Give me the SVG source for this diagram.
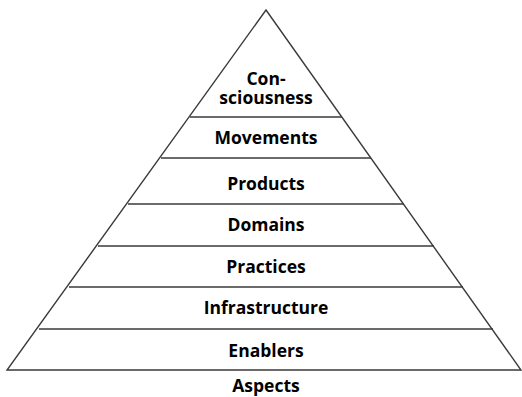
<svg xmlns="http://www.w3.org/2000/svg" width="522" height="397" viewBox="0 0 522 397">
<style>
.ln{stroke:#3a3a3a;stroke-width:1.4;fill:none}
.t{font-family:"Open Sans","Liberation Sans",sans-serif;font-weight:bold;font-size:17.5px;fill:#000;text-anchor:middle}
</style>
<rect width="522" height="397" fill="#fff"/>
<g id="pyramid">
<polygon class="ln" points="266,10 521,370 7,370"/>
</g>
<g id="connectors">
<line class="ln" x1="190" y1="117" x2="342" y2="117"/>
<line class="ln" x1="161" y1="158" x2="371" y2="158"/>
<line class="ln" x1="128" y1="204" x2="404" y2="204"/>
<line class="ln" x1="98" y1="246" x2="434" y2="246"/>
<line class="ln" x1="69" y1="287" x2="463" y2="287"/>
<line class="ln" x1="39" y1="329" x2="493" y2="329"/>
</g>
<g id="consciousness"><text class="t" x="266" y="85">Con-</text><text class="t" x="266" y="104">sciousness</text></g>
<g id="movements"><text class="t" x="266" y="144">Movements</text></g>
<g id="products"><text class="t" x="266" y="190">Products</text></g>
<g id="domains"><text class="t" x="266" y="231">Domains</text></g>
<g id="practices"><text class="t" x="266" y="273">Practices</text></g>
<g id="infrastructure"><text class="t" x="266" y="314">Infrastructure</text></g>
<g id="enablers"><text class="t" x="266" y="357">Enablers</text></g>
<g id="aspects"><text class="t" x="266" y="392">Aspects</text></g>
</svg>
